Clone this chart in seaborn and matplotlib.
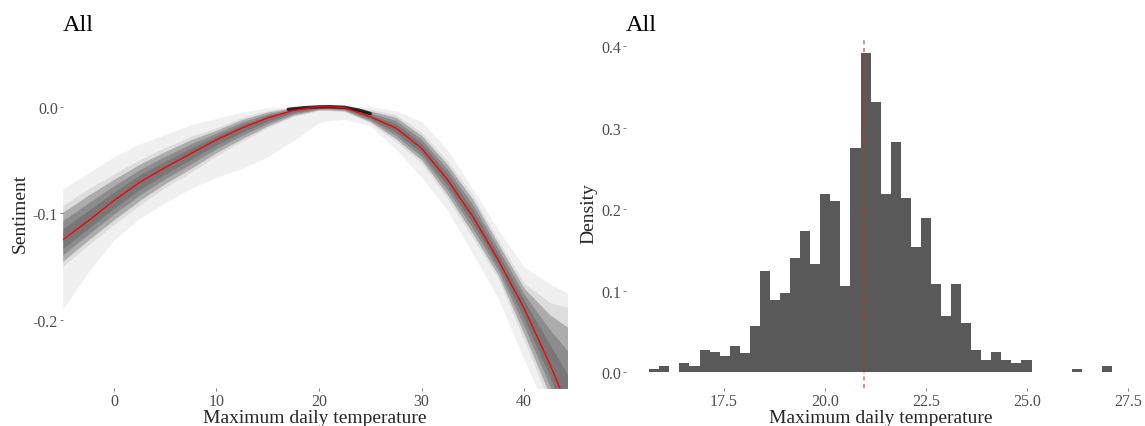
import numpy as np
import matplotlib
matplotlib.use("Agg")
import matplotlib.pyplot as plt
import pandas as pd
import seaborn as sns

# left panel: temperature response curves
temp = [-5, -2.5, 0, 2.5, 5, 7.5, 10, 12.5, 15, 17.5, 20, 21, 22.5, 25, 27.5,
        30, 32.5, 35, 37.5, 40, 42.5, 44.3]
mean_curve = [-0.125, -0.107, -0.088, -0.071, -0.057, -0.044, -0.031, -0.020, -0.0105,
              -0.0035, -0.0002, 0.0, -0.001, -0.0095, -0.020, -0.039, -0.068, -0.103,
              -0.144, -0.189, -0.241, -0.282]
# spread of the bootstrap curves: faint outer edges and the dense core
outer_top = [-0.077, -0.062, -0.047, -0.035, -0.026, -0.017, -0.011, -0.005, -0.001,
             0.0, 0.0, 0.0, 0.0, 0.0, -0.004, -0.014, -0.040, -0.077, -0.116, -0.150,
             -0.166, -0.175]
outer_bottom = [-0.190, -0.155, -0.125, -0.105, -0.090, -0.077, -0.066, -0.058, -0.047,
                -0.032, -0.015, -0.013, -0.012, -0.018, -0.040, -0.066, -0.097, -0.138,
                -0.180, -0.237, -0.290, -0.330]
core_top = [-0.099, -0.083, -0.068, -0.054, -0.042, -0.031, -0.022, -0.012, -0.005,
            -0.001, 0.0, 0.0, 0.0, -0.004, -0.010, -0.027, -0.054, -0.087, -0.129,
            -0.170, -0.195, -0.207]
core_bottom = [-0.145, -0.125, -0.106, -0.088, -0.072, -0.058, -0.043, -0.030, -0.018,
               -0.008, -0.003, -0.003, -0.004, -0.014, -0.030, -0.050, -0.082, -0.119,
               -0.158, -0.213, -0.270, -0.310]
# where nearly all curves pile up at the optimum
ridge_x = [17, 18.5, 20, 21, 22.5, 24, 25]
ridge_y = [-0.0025, -0.001, -0.0002, 0.0, -0.0006, -0.0035, -0.0065]

# right panel: histogram of optimal temperature (density per bin)
bin_start = 15.65
bin_width = 0.249
density = [0.0040, 0.0082, 0.0, 0.0114, 0.0082, 0.0278, 0.0245, 0.0200, 0.0319, 0.0241,
           0.0568, 0.1246, 0.0890, 0.0968, 0.1405, 0.1732, 0.1332, 0.2185, 0.2096, 0.1054,
           0.2745, 0.3913, 0.3313, 0.2185, 0.2827, 0.2137, 0.1532, 0.1887, 0.1083, 0.0686,
           0.1083, 0.0600, 0.0274, 0.0155, 0.0245, 0.0155, 0.0114, 0.0155, 0.0, 0.0,
           0.0, 0.0, 0.0040, 0.0, 0.0, 0.0082]
optimum = 20.97

n_bins = len(density)
centers = bin_start + bin_width * (np.arange(n_bins) + 0.5)
hist_df = pd.DataFrame({'temp': centers, 'density': density})

sns.set_theme(style="white")
plt.rcParams['font.family'] = ['Liberation Serif', 'DejaVu Serif']
plt.rcParams['axes.unicode_minus'] = False

fig = plt.figure(figsize=(11.45, 4.27), dpi=100)
ax1 = fig.add_axes([0.05476, 0.08829, 0.44009, 0.82201])
ax2 = fig.add_axes([0.54690, 0.08829, 0.44428, 0.82201])

# left: bootstrap band, shaded from faint edges to a dense middle
mc = np.array(mean_curve)
ct = np.array(core_top)
cb = np.array(core_bottom)
ax1.fill_between(temp, outer_top, outer_bottom, color='black', alpha=0.06, linewidth=0)
for k, a in [(1.25, 0.08), (1.0, 0.22), (0.7, 0.18), (0.4, 0.15)]:
    ax1.fill_between(temp, mc + k * (ct - mc), mc + k * (cb - mc),
                     color='black', alpha=a, linewidth=0)
ax1.plot(ridge_x, ridge_y, color='black', lw=2.4, alpha=0.8, solid_capstyle='round')
sns.lineplot(x=temp, y=mean_curve, color='red', lw=1.0, ax=ax1)
ax1.set_xlim(-5.0, 44.15)
ax1.set_ylim(-0.264, 0.065)
ax1.set_xticks([0, 10, 20, 30, 40])
ax1.set_yticks([0.0, -0.1, -0.2])
ax1.set_yticklabels(['0.0', '-0.1', '-0.2'])
ax1.set_xlabel('Maximum daily temperature', fontsize=14, labelpad=0)
ax1.set_ylabel('Sentiment', fontsize=14, labelpad=3)

# right: histogram of optimum temperatures
sns.histplot(data=hist_df, x='temp', weights='density', binwidth=bin_width,
             binrange=(bin_start, bin_start + bin_width * n_bins),
             color='#595959', alpha=1, linewidth=0, ax=ax2)
ax2.axvline(optimum, color='#d62c1f', alpha=0.75, lw=1.1, linestyle=(0, (2.5, 2.5)))
ax2.set_xlim(15.08, 27.67)
ax2.set_ylim(-0.0196, 0.4106)
ax2.set_xticks([17.5, 20.0, 22.5, 25.0, 27.5])
ax2.set_xticklabels(['17.5', '20.0', '22.5', '25.0', '27.5'])
ax2.set_yticks([0.0, 0.1, 0.2, 0.3, 0.4])
ax2.set_yticklabels(['0.0', '0.1', '0.2', '0.3', '0.4'])
ax2.set_xlabel('Maximum daily temperature', fontsize=14, labelpad=0)
ax2.set_ylabel('Density', fontsize=14, labelpad=3)

for ax in (ax1, ax2):
    for s in ax.spines.values():
        s.set_visible(False)
    ax.tick_params(axis='both', bottom=True, left=True, length=2.5, width=0.6,
                   color='#666666', labelcolor='#4d4d4d', labelsize=11.5, pad=0.8)
    ax.grid(False)
    ax.text(0, 1 + 7.3 / 351, 'All', transform=ax.transAxes, fontsize=17.5,
            ha='left', va='baseline', color='black')

fig.savefig('out.png', dpi=100)
